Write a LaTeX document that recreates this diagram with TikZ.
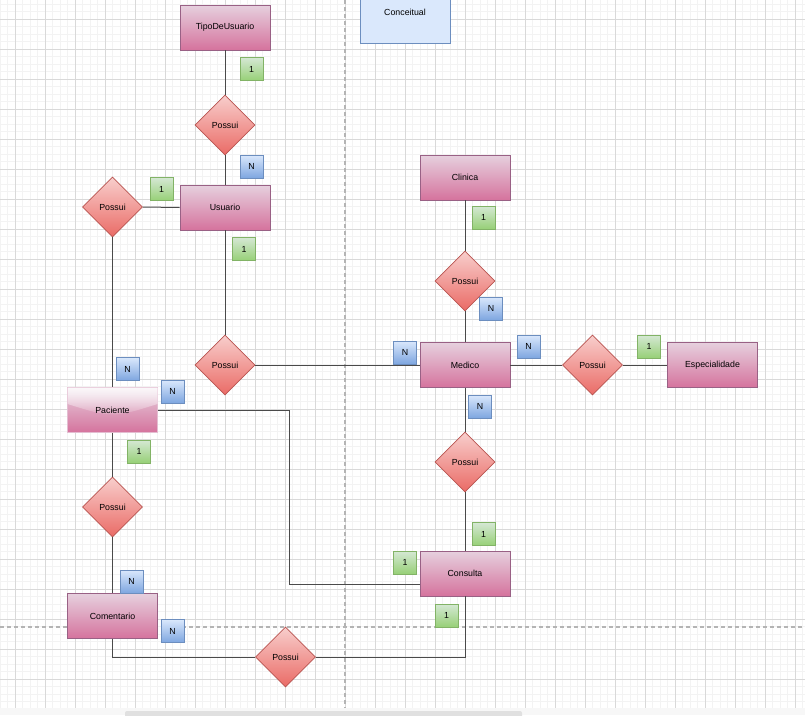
\documentclass[tikz,border=0pt]{standalone}
\usepackage{fontspec}
\setmainfont{Liberation Sans}
\usetikzlibrary{shapes.geometric,fadings}

\definecolor{entTop}{HTML}{E6D0DE}
\definecolor{entBot}{HTML}{D5739D}
\definecolor{entLine}{HTML}{996185}
\definecolor{relTop}{HTML}{F8CECC}
\definecolor{relBot}{HTML}{EA6B66}
\definecolor{relLine}{HTML}{B85450}
\definecolor{oneTop}{HTML}{D5E8D4}
\definecolor{oneBot}{HTML}{97D077}
\definecolor{oneLine}{HTML}{82B366}
\definecolor{manyTop}{HTML}{DAE8FC}
\definecolor{manyBot}{HTML}{7EA6E0}
\definecolor{manyLine}{HTML}{6C8EBF}
\definecolor{noteFill}{HTML}{DAE8FC}
\definecolor{wire}{HTML}{4A4A4A}
\definecolor{gridMajor}{HTML}{D9D9D9}
\definecolor{gridMinor}{HTML}{F3F3F3}
\definecolor{pageSplit}{HTML}{B4B4B4}
\definecolor{barBack}{HTML}{F7F7F7}
\definecolor{barThumb}{HTML}{E0E0E0}

\tikzset{
  txt/.style={font=\fontsize{8.8}{10}\selectfont, text=black},
  entity/.style={txt, rectangle, draw=entLine, line width=0.8pt,
    top color=entTop, bottom color=entBot,
    minimum width=90pt, minimum height=45pt, inner sep=0pt},
  glassentity/.style={entity, draw=entTop!80!entBot},
  relation/.style={txt, diamond, draw=relLine, line width=0.8pt,
    top color=relTop, bottom color=relBot, shape aspect=1,
    minimum width=60pt, minimum height=60pt, inner sep=0pt},
  card/.style={txt, rectangle, line width=0.8pt,
    minimum width=23pt, minimum height=23pt, inner sep=0pt},
  one/.style={card, draw=oneLine, top color=oneTop, bottom color=oneBot},
  many/.style={card, draw=manyLine, top color=manyTop, bottom color=manyBot},
  notebox/.style={txt, rectangle, draw=manyLine, line width=0.8pt, fill=noteFill,
    minimum width=90pt, minimum height=45pt, inner sep=0pt,
    text height=6pt, text depth=17pt},
  wireline/.style={draw=wire, line width=1pt},
  gridminor/.style={draw=gridMinor, line width=1pt},
  gridmajor/.style={draw=gridMajor, line width=1pt},
  split/.style={draw=pageSplit, line width=1.1pt, dash pattern=on 4pt off 3pt},
}

\begin{document}
\begin{tikzpicture}[x=1pt,y=-1pt]
  \useasboundingbox (0,0) rectangle (805,715);
  \fill[white] (0,0) rectangle (805,715);

  % canvas grid
  \foreach \k in {0,...,107} {\path[gridminor] (7.5*\k,0) -- (7.5*\k,708);}
  \foreach \k in {0,...,93} {\path[gridminor] (0,4+7.5*\k) -- (805,4+7.5*\k);}
  \foreach \gx in {15,45,...,795} {\path[gridmajor] (\gx,0) -- (\gx,708);}
  \foreach \gy in {19,49,...,699} {\path[gridmajor] (0,\gy) -- (805,\gy);}

  % page boundaries
  \path[split] (345,0) -- (345,708);
  \path[split] (0,627) -- (805,627);

  % bottom scroll bar
  \fill[barBack] (0,708) rectangle (805,715);
  \fill[barThumb, rounded corners=2pt] (125,711) rectangle (522,719);

  % entities
  \node[entity] (tipo) at (225,27.5) {TipoDeUsuario};
  \node[notebox] (conc) at (405,20.5) {Conceitual};
  \node[entity] (usu) at (225,207.5) {Usuario};
  \node[glassentity] (pac) at (112.5,410) {};
  \fill[white, fill opacity=0.85, path fading=south]
    (67.5,387.5) -- (157.5,387.5) -- (157.5,404)
    .. controls (112.5,418) .. (67.5,404) -- cycle;
  \node[txt] at (pac) {Paciente};
  \node[entity] (com) at (112.5,616) {Comentario};
  \node[entity] (cli) at (465,177.5) {Clinica};
  \node[entity] (med) at (465,365) {Medico};
  \node[entity] (con) at (465,573.5) {Consulta};
  \node[entity] (esp) at (712.5,365) {Especialidade};

  % relationships
  \node[relation] (r1) at (225,125) {Possui};
  \node[relation] (r2) at (112.5,207) {Possui};
  \node[relation] (r3) at (225,365) {Possui};
  \node[relation] (r4) at (112.5,507) {Possui};
  \node[relation] (r5) at (285.5,657) {Possui};
  \node[relation] (r6) at (465,281) {Possui};
  \node[relation] (r7) at (592.5,365) {Possui};
  \node[relation] (r8) at (465,462) {Possui};

  % connectors
  \coordinate (pcbend) at (289,410);
  \coordinate (conin) at ([yshift=-10.5pt]con.west);
  \path[wireline] (tipo.south) -- (r1.north);
  \path[wireline] (r1.south) -- (usu.north);
  \path[wireline] (r2.east) -- (usu.west);
  \path[wireline] (usu.south) -- (r3.north);
  \path[wireline] (r3.east) -- (med.west);
  \path[wireline] (r2.south) -- (pac.north);
  \path[wireline] (pac.east) -- (pcbend) |- (conin);
  \path[wireline] (pac.south) -- (r4.north);
  \path[wireline] (r4.south) -- (com.north);
  \path[wireline] (com.south) |- (r5.west);
  \path[wireline] (r5.east) -| (con.south);
  \path[wireline] (cli.south) -- (r6.north);
  \path[wireline] (r6.south) -- (med.north);
  \path[wireline] (med.south) -- (r8.north);
  \path[wireline] (r8.south) -- (con.north);
  \path[wireline] (med.east) -- (r7.west);
  \path[wireline] (r7.east) -- (esp.west);

  % cardinalities
  \node[one]  (c1)  at (251.5,69)    {1};
  \node[many] (c2)  at (251.5,166.5) {N};
  \node[one]  (c3)  at (161.5,189)   {1};
  \node[one]  (c4)  at (244,249)     {1};
  \node[many] (c5)  at (127.5,369)   {N};
  \node[many] (c6)  at (172.5,391.5) {N};
  \node[one]  (c7)  at (139,451.5)   {1};
  \node[many] (c8)  at (131.5,581.5) {N};
  \node[many] (c9)  at (172.5,631)   {N};
  \node[one]  (c10) at (405,562.5)   {1};
  \node[one]  (c11) at (446.5,615.5) {1};
  \node[one]  (c12) at (483.5,534)   {1};
  \node[many] (c13) at (405,352.5)   {N};
  \node[many] (c14) at (528.5,346.5) {N};
  \node[many] (c15) at (480,406.5)   {N};
  \node[one]  (c16) at (649,346.5)   {1};
  \node[one]  (c17) at (483.5,217.5) {1};
  \node[many] (c18) at (491,308.5)   {N};
\end{tikzpicture}
\end{document}
